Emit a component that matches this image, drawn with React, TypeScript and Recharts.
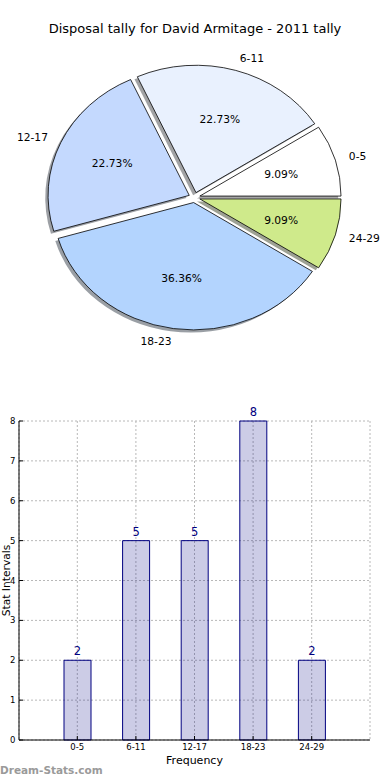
import React from "react";
import {
  PieChart,
  Pie,
  Cell,
  BarChart,
  Bar,
  XAxis,
  YAxis,
  CartesianGrid,
  LabelList,
} from "recharts";

// tally buckets and disposal counts
const categories = ["0-5", "6-11", "12-17", "18-23", "24-29"];
const counts = [2, 5, 5, 8, 2];
const sliceColors = ["#ffffff", "#e9f1fe", "#c4d9fe", "#b3d4fe", "#cfea8b"];
const yTicks = [0, 1, 2, 3, 4, 5, 6, 7, 8];

const pieData = categories.map((name, i) => ({ name, value: counts[i] }));
const barData = categories.map((name, i) => ({ name, count: counts[i] }));

const FONT = "'DejaVu Sans', Verdana, sans-serif";
const NAVY = "#000080";
// pie is drawn on non-equal axes -> ellipse
const SQUASH = 0.902;
const EXPLODE = 0.04;
const RAD = Math.PI / 180;

function darken(hex: string, k: number) {
  const n = parseInt(hex.slice(1), 16);
  const r = Math.round(((n >> 16) & 255) * k);
  const g = Math.round(((n >> 8) & 255) * k);
  const b = Math.round((n & 255) * k);
  return `rgb(${r},${g},${b})`;
}

function wedgePath(x: number, y: number, rx: number, ry: number, a0: number, a1: number) {
  const x0 = x + rx * Math.cos(a0 * RAD);
  const y0 = y - ry * Math.sin(a0 * RAD);
  const x1 = x + rx * Math.cos(a1 * RAD);
  const y1 = y - ry * Math.sin(a1 * RAD);
  const large = Math.abs(a1 - a0) > 180 ? 1 : 0;
  return `M${x},${y} L${x0},${y0} A${rx},${ry} 0 ${large} 0 ${x1},${y1} Z`;
}

function renderSlice(props: any) {
  const { cx, cy, outerRadius, startAngle, endAngle, fill } = props;
  const mid = (startAngle + endAngle) / 2;
  const rx = outerRadius;
  const ry = outerRadius * SQUASH;
  const ox = cx + EXPLODE * rx * Math.cos(mid * RAD);
  const oy = cy - EXPLODE * ry * Math.sin(mid * RAD);
  return (
    <g>
      <path
        d={wedgePath(ox - 0.02 * rx, oy + 0.02 * ry, rx, ry, startAngle, endAngle)}
        fill={darken(fill, 0.3)}
        fillOpacity={0.5}
        stroke="none"
      />
      <path d={wedgePath(ox, oy, rx, ry, startAngle, endAngle)} fill={fill} stroke="#000" strokeWidth={0.8} />
    </g>
  );
}

function renderPieLabel(props: any) {
  const { cx, cy, midAngle, outerRadius, percent, name } = props;
  const rx = outerRadius;
  const ry = outerRadius * SQUASH;
  const c = Math.cos(midAngle * RAD);
  const s = Math.sin(midAngle * RAD);
  const ox = cx + EXPLODE * rx * c;
  const oy = cy - EXPLODE * ry * s;
  return (
    <g fontFamily={FONT} fontSize={10.7} fill="#000">
      <text x={ox + 1.1 * rx * c} y={oy - 1.1 * ry * s} textAnchor={c > 0 ? "start" : "end"} dominantBaseline="central">
        {name}
      </text>
      <text x={ox + 0.6 * rx * c} y={oy - 0.6 * ry * s} textAnchor="middle" dominantBaseline="central">
        {(percent * 100).toFixed(2)}%
      </text>
    </g>
  );
}

function XTick(props: any) {
  const { x, y, payload } = props;
  return (
    <g>
      <line x1={x} x2={x} y1={y} y2={y - 4} stroke="#000" strokeWidth={1} />
      <text x={x} y={y + 10} textAnchor="middle" fontFamily={FONT} fontSize={8.5} fill="#000">
        {payload.value}
      </text>
    </g>
  );
}

function YTick(props: any) {
  const { x, y, payload } = props;
  return (
    <g>
      <line x1={x} x2={x + 4} y1={y} y2={y} stroke="#000" strokeWidth={1} />
      <text x={x - 3.5} y={y + 3} textAnchor="end" fontFamily={FONT} fontSize={8.5} fill="#000">
        {payload.value}
      </text>
    </g>
  );
}

export default function App() {
  return (
    <div
      style={{
        position: "absolute",
        left: 0,
        top: 0,
        width: 390,
        height: 780,
        overflow: "hidden",
        background: "#fff",
        fontFamily: FONT,
      }}
    >
      <div
        style={{
          position: "absolute",
          top: 21,
          left: 0,
          width: 390,
          textAlign: "center",
          fontSize: 13,
          color: "#000",
        }}
      >
        Disposal tally for David Armitage - 2011 tally
      </div>

      <div style={{ position: "absolute", left: 0, top: 0 }}>
        <PieChart width={390} height={370} margin={{ top: 0, right: 0, bottom: 0, left: 0 }}>
          <Pie
            data={pieData}
            dataKey="value"
            nameKey="name"
            cx={194.4}
            cy={197.5}
            outerRadius={141.2}
            startAngle={0}
            endAngle={360}
            shape={renderSlice}
            label={renderPieLabel}
            labelLine={false}
            isAnimationActive={false}
          >
            {pieData.map((d, i) => (
              <Cell key={d.name} fill={sliceColors[i]} />
            ))}
          </Pie>
        </PieChart>
      </div>

      <div style={{ position: "absolute", left: 0, top: 400 }}>
        <BarChart width={390} height={380} data={barData} margin={{ top: 21, right: 20, bottom: 20, left: 0 }}>
          <CartesianGrid stroke="#b8b8b8" strokeDasharray="2 2" strokeWidth={1} />
          <XAxis
            dataKey="name"
            height={20}
            padding={{ left: 29, right: 29 }}
            tickSize={0}
            tickMargin={0}
            tick={<XTick />}
            axisLine={{ stroke: "#000", strokeWidth: 1 }}
            interval={0}
            label={{
              content: (p: any) => {
                const vb = p.viewBox || { x: 19, y: 340, width: 351, height: 20 };
                return (
                  <text x={vb.x + vb.width / 2} y={vb.y + 24} textAnchor="middle" fontFamily={FONT} fontSize={11} fill="#000">
                    Frequency
                  </text>
                );
              },
            }}
          />
          <XAxis xAxisId="top" dataKey="name" orientation="top" height={0} tick={false} tickLine={false} axisLine={{ stroke: "#000", strokeWidth: 1 }} />
          <YAxis
            width={19}
            domain={[0, 8]}
            ticks={yTicks}
            tickSize={0}
            tickMargin={0}
            tick={<YTick />}
            axisLine={{ stroke: "#000", strokeWidth: 1 }}
            interval={0}
            label={{
              content: (p: any) => {
                const vb = p.viewBox || { x: 0, y: 21, width: 19, height: 319 };
                const cy = vb.y + vb.height / 2;
                return (
                  <text
                    x={6}
                    y={cy}
                    transform={`rotate(-90, 6, ${cy})`}
                    textAnchor="middle"
                    dominantBaseline="central"
                    fontFamily={FONT}
                    fontSize={10.7}
                    fill="#000"
                  >
                    Stat Intervals
                  </text>
                );
              },
            }}
          />
          <YAxis yAxisId="right" orientation="right" width={0} domain={[0, 8]} tick={false} tickLine={false} axisLine={{ stroke: "#000", strokeWidth: 1 }} />
          <Bar dataKey="count" barSize={27} fill={NAVY} fillOpacity={0.2} stroke={NAVY} strokeWidth={1} isAnimationActive={false}>
            <LabelList dataKey="count" position="top" offset={5} fill={NAVY} fontSize={11.5} fontFamily={FONT} />
          </Bar>
        </BarChart>
      </div>

      <div
        style={{
          position: "absolute",
          left: 0,
          top: 764,
          fontSize: 10.5,
          fontWeight: "bold",
          color: "#9a9a9a",
        }}
      >
        Dream-Stats.com
      </div>
    </div>
  );
}
